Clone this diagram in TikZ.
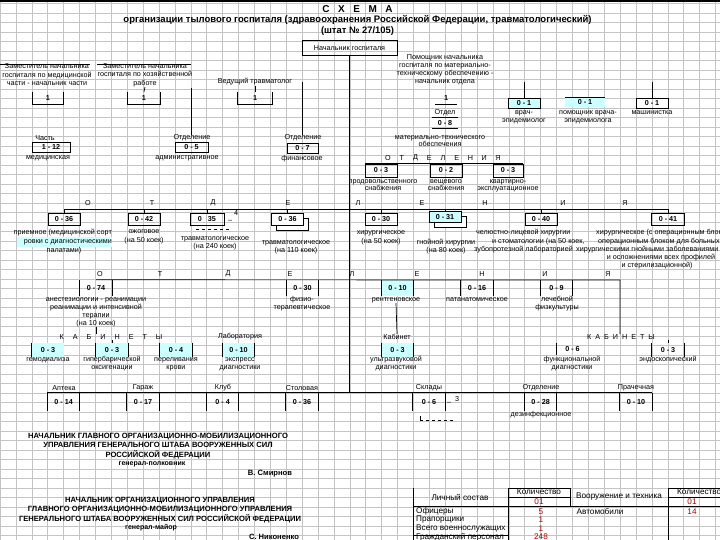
\documentclass[tikz,border=0pt]{standalone}
\usepackage{fontspec}
\setmainfont{Liberation Sans}
\definecolor{cy}{HTML}{CCFFFF}
\definecolor{dred}{HTML}{B00000}
\definecolor{gridc}{HTML}{C4C4C4}
\newcommand{\mysides}[1]{\draw[ln] (#1.north west) -- (#1.south west) (#1.north east) -- (#1.south east);}
\newcommand{\myubox}[1]{\draw[ln] (#1.north west) |- (#1.south east) -- (#1.north east);}
\tikzset{
 tx/.style={font=\fontsize{7.2}{8}\selectfont, inner sep=0pt, align=center},
 bnum/.style={inner sep=0pt, font=\fontsize{7.2}{7}\bfseries\selectfont, minimum width=32pt, minimum height=12pt},
 fbox/.style={bnum, draw, line width=0.7pt},
 ln/.style={line width=0.7pt},
 boldt/.style={font=\fontsize{7.6}{9.2}\bfseries\selectfont, inner sep=0pt, align=center},
 tabt/.style={font=\fontsize{8.2}{9}\selectfont, inner sep=0pt},
}
\begin{document}
\begin{tikzpicture}[x=1pt,y=-1pt]
\useasboundingbox (0,0) rectangle (720,540);
\fill[white] (0,0) rectangle (720,540);
% spreadsheet grid
\foreach \i in {0,...,45} \draw[gridc,line width=0.5pt] (\i*15.9,0) -- (\i*15.9,540);
\foreach \j in {0,...,56} \draw[gridc,line width=0.5pt] (0,3.5+\j*9.5) -- (720,3.5+\j*9.5);
\draw[line width=1.5pt] (0,0.8) -- (720,0.8);

% title
\node[font=\fontsize{10}{10}\bfseries\selectfont, inner sep=0pt] (ttl) at (357.5,9) {С\hspace{8.5pt}Х\hspace{8.5pt}Е\hspace{8.5pt}М\hspace{8.5pt}А};
\node[font=\fontsize{9.5}{10}\bfseries\selectfont, inner sep=0pt] (sub) at (357.5,20) {организации тылового госпиталя (здравоохранения Российской Федерации, травматологический)};
\node[font=\fontsize{9.4}{10}\bfseries\selectfont, inner sep=0pt] (sht) at (357.5,31) {(штат № 27/105)};

% head
\node[tx, draw, line width=0.7pt, minimum width=95pt, minimum height=15pt] (nach) at (349.5,48) {Начальник госпиталя};
\coordinate (trunkE) at (349.5,393);
\draw[ln] (nach.south) -- (trunkE);

% deputies
\node[tx, font=\fontsize{7.2}{8.5}\selectfont] (z1) at (47,75) {Заместитель начальника\\госпиталя по медицинской\\части - начальник части};
\coordinate (z1a) at (0,64); \coordinate (z1b) at (90,64);
\draw[ln] (z1a) -- (z1b);
\node[bnum, minimum width=30pt] (z1n) at (48,98) {1};
\myubox{z1n}

\node[tx, font=\fontsize{7.2}{8.5}\selectfont] (z2) at (145,75) {Заместитель начальника\\госпиталя по хозяйственной\\работе};
\coordinate (z2a) at (97,64); \coordinate (z2b) at (191,64);
\draw[ln] (z2a) -- (z2b);
\node[bnum] (z2n) at (144,98) {1};
\myubox{z2n}
\draw[ln] (z2.south) -- (z2n.north);

\node[tx] (ved) at (255,82) {Ведущий травматолог};
\node[bnum, minimum width=34pt] (vedn) at (255,98) {1};
\myubox{vedn}
\draw[ln] (ved.south) -- (vedn.north);

\node[tx, font=\fontsize{7.2}{8}\selectfont] (pom) at (445,70) {Помощник начальника\\госпиталя по материально-\\техническому обеспечению -\\начальник отдела};
\node[bnum, minimum width=22pt, minimum height=11pt] (pomn) at (446,98.5) {1};
\draw[ln] (pomn.south west) -- (pomn.south east);
\node[tx, minimum width=26pt, minimum height=8pt] (otdel) at (445,113) {Отдел};
\draw[ln] (otdel.south west) -- (otdel.south east);
\node[bnum, minimum width=26pt, minimum height=10pt] (otd8) at (445,123) {0 - 8};
\draw[ln] (otd8.south west) -- (otd8.south east);

% right top
\node[fbox, fill=cy, minimum height=10pt] (vr) at (524,103) {0 - 1};
\coordinate (vrt) at (524,82);
\draw[ln] (vrt) -- (vr.north);
\node[tx] (vrtx) at (524,117) {врач-\\эпидемиолог};
\node[bnum, fill=cy, minimum width=40pt, minimum height=9pt] (pv) at (585,102.5) {0 - 1};
\draw[ln] (pv.north west) -- (pv.north east);
\node[tx] (pvtx) at (588,117) {помощник врача-\\эпидемиолога};
\node[fbox, minimum height=10pt] (ms) at (652,103) {0 - 1};
\coordinate (mst) at (652,82);
\draw[ln] (mst) -- (ms.north);
\node[tx] (mstx) at (652,113) {машинистка};

% row 2
\node[tx] (ch) at (45,138) {Часть};
\node[fbox, minimum width=38pt, minimum height=10pt] (ch1) at (51,147) {1 - 12};
\node[tx] (chtx) at (48,158) {медицинская};
\node[tx] (otd1) at (192,138) {Отделение};
\node[fbox, minimum width=33pt, minimum height=10pt] (ad) at (191.5,147) {0 - 5};
\node[tx] (adtx) at (187,158) {административное};
\coordinate (v1) at (191,88);
\draw[ln] (v1) -- (v1 |- otd1.north);
\node[tx] (otd2) at (303,138) {Отделение};
\node[fbox, minimum width=31pt, minimum height=10pt] (fin) at (302.5,148) {0 - 7};
\node[tx] (fintx) at (302,159) {финансовое};
\coordinate (v2) at (302,82);
\draw[ln] (v2) -- (v2 |- otd2.north);

\node[tx, font=\fontsize{7.2}{7}\selectfont] (mto) at (440,141.5) {материально-технического\\обеспечения};
\foreach \l [count=\k from 0] in {О,Т,Д,Е,Л,Е,Н,И,Я} \node[tx] (ra\k) at (388+\k*13.75,158) {\l};
\node[fbox, minimum height=13pt] (mt1) at (381,170.5) {0 - 3};
\node[fbox, minimum height=13pt] (mt2) at (446,170.5) {0 - 2};
\node[fbox, minimum width=30pt, minimum height=13pt] (mt3) at (508,170.5) {0 - 3};
\draw[ln] (mt1.north west) -- (mt3.north east);
\node[tx, font=\fontsize{7.2}{7}\selectfont] (mt1tx) at (383,185.5) {продовольственного\\снабжения};
\node[tx, font=\fontsize{7.2}{7}\selectfont] (mt2tx) at (446,185.5) {вещевого\\снабжения};
\node[tx, font=\fontsize{7.2}{7}\selectfont] (mt3tx) at (508,185.5) {квартирно-\\эксплуатационное};

% row 3 departments
\foreach \l/\x in {О/88,Т/152,Д/213,Е/288,Л/358,Е/422,Н/485,И/563,Я/625} \node[tx] at (\x,203) {\l};
\node[fbox] (dA) at (64,219) {0 - 36};
\node[fbox] (dB) at (144,219) {0 - 42};
\node[fbox, minimum width=34pt] (dC) at (207,219) {0\hspace{6pt}35};
\node[fbox, fill=white] (dDs) at (292.5,224) {};
\node[fbox, fill=white] (dD) at (287.5,219) {0 - 36};
\node[fbox] (dE) at (381,219) {0 - 30};
\node[fbox, fill=white, minimum height=11pt] (dFs) at (450,222) {};
\node[fbox, fill=cy, minimum height=11pt] (dF) at (445,217) {0 - 31};
\node[fbox] (dG) at (541,219) {0 - 40};
\node[fbox, minimum width=33pt] (dH) at (668,219) {0 - 41};
\coordinate (b3L) at (64,209); \coordinate (b3R) at (668,209);
\draw[ln] (dA.north) -- (b3L) -- (b3R) -- (dH.north);
\foreach \n in {dB,dC,dD,dE,dF,dG} \draw[ln] (\n.north) -- (\n.north |- b3L);
\node[tx] (c4) at (236,213.5) {4};
\node[tx] (c4d) at (230,221) {–};
\coordinate (dsh1) at (196,229.5); \coordinate (dsh2) at (231,229.5);
\draw[line width=0.6pt, dashed] (dsh1) -- (dsh2);

\fill[cy] (17,236.5) rectangle (112,247);
\node[tx, anchor=east] (dAt1) at (112,233) {приемное (медицинской сорт};
\node[tx, anchor=east] (dAt2) at (112,242) {ровки с диагностическими};
\node[tx] (dAt3) at (64,250.5) {палатами)};
\node[tx, font=\fontsize{7.2}{9}\selectfont] (dBt) at (144,236.5) {ожоговое\\(на 50 коек)};
\node[tx] (dCt) at (215,243) {травматологическое\\(на 240 коек)};
\node[tx] (dDt) at (296,247) {травматологическое\\(на 110 коек)};
\node[tx, font=\fontsize{7.2}{9}\selectfont] (dEt) at (381,237.5) {хирургическое\\(на 50 коек)};
\node[tx] (dFt) at (446,247) {гнойной хирургии\\(на 80 коек)};
\node[tx, anchor=west] (dGt1) at (476,233) {челюстно-лицевой хирургии};
\node[tx, anchor=west] (dHt1) at (596,233) {хирургическое (с операционным блоком};
\node[tx, anchor=west] (dGt2) at (492,242) {и стоматологии (на 50 коек,};
\node[tx, anchor=west] (dHt2) at (598,242) {операционным блоком для больных};
\node[tx, anchor=west] (dGt3) at (474,250) {зубопротезной лабораторией};
\node[tx, anchor=west] (dHt3) at (576,250) {хирургическими гнойными заболеваниями};
\node[tx] (dHt4) at (661,258) {и осложнениями всех профилей};
\node[tx] (dHt5) at (657,266) {и стерилизационной)};

% row 4 departments
\foreach \l/\x in {О/100,Т/160,Д/228,Е/290,Л/352,Е/417,Н/482,И/545,Я/608} \node[tx] at (\x,274) {\l};
\node[bnum, minimum height=16pt] (r4a) at (96,288) {0 - 74};
\node[bnum, minimum width=31pt, minimum height=16pt] (r4b) at (302.5,288) {0 - 30};
\node[bnum, fill=cy, minimum width=31pt, minimum height=16pt] (r4c) at (397.5,288) {0 - 10};
\node[bnum, minimum height=16pt] (r4d) at (477,288) {0 - 16};
\node[bnum, minimum height=16pt] (r4e) at (556.5,288) {0 - 9};
\foreach \n in {r4a,r4b,r4c,r4d,r4e} {\mysides{\n}}
\coordinate (b4R) at (620,280);
\node[tx] (anest) at (96,312) {анестезиологии - реанимации\\реанимации и интенсивной\\терапии\\(на 10 коек)};
\node[tx] (fiz) at (302,304) {физио-\\терапевтическое};
\node[tx] (rent) at (396,300) {рентгеновское};
\node[tx] (pat) at (477,300) {патанатомическое};
\node[tx] (lfk) at (557,304) {лечебной\\физкультуры};

% cabinets
\node[tx] (kabL) at (111,337) {К\hspace{9pt}А\hspace{9pt}Б\hspace{9pt}И\hspace{9pt}Н\hspace{9pt}Е\hspace{9pt}Т\hspace{9pt}Ы};
\node[tx] (lab) at (240,337) {Лаборатория};
\node[tx] (kab) at (397,337) {Кабинет};
\node[tx] (kabR) at (621,337) {К\hspace{4pt}А\hspace{4pt}Б\hspace{4pt}И\hspace{4pt}Н\hspace{4pt}Е\hspace{4pt}Т\hspace{4pt}Ы};
\draw[ln] (r4a.north) -- (b4R) -- (kabR.north -| b4R);
\draw[ln] (anest.south) -- (anest.south |- kabL.north);
\draw[ln] (rent.south) -- (kab.north);
\node[bnum, fill=cy, minimum height=14pt] (k1) at (48,350) {0 - 3};
\draw[ln] (k1.north west) -- (k1.south west);
\node[bnum, fill=cy, minimum height=14pt] (k2) at (112,350) {0 - 3};
\node[bnum, fill=cy, minimum height=14pt] (k3) at (176,350) {0 - 4};
\node[bnum, fill=cy, minimum height=14pt] (k4) at (238.5,350) {0 - 10};
\node[bnum, fill=cy, minimum width=31pt, minimum height=14pt] (k5) at (397.5,350) {0 - 3};
\node[bnum, minimum height=12pt] (k6) at (572.5,349) {0 - 6};
\draw[ln] (k6.north west) -- (k6.south west);
\node[bnum, minimum height=14pt] (k7) at (668,350) {0 - 3};
\foreach \n in {k2,k3,k4,k5,k7} {\mysides{\n}}
\draw[ln] (k2.north) -- (k2.north |- kabL.south);
\draw[ln] (k7.north) -- (k7.north |- kabR.south);
\node[tx] (k1t) at (48,360) {гемодиализа};
\node[tx] (k2t) at (112,364) {гипербарической\\оксигенации};
\node[tx] (k3t) at (176,364) {переливания\\крови};
\node[tx] (k4t) at (240,364) {экспресс\\диагностики};
\node[tx] (k5t) at (396,364) {ультразвуковой\\диагностики};
\node[tx] (k6t) at (572,364) {функциональной\\диагностики};
\node[tx] (k7t) at (668,360) {эндоскопический};

% bottom services
\node[tx] (l1) at (64,388) {Аптека};
\node[tx] (l2) at (143,388) {Гараж};
\node[tx] (l3) at (223,388) {Клуб};
\node[tx] (l4) at (302,388) {Столовая};
\node[tx] (l5) at (429,388) {Склады};
\node[tx] (l6) at (541,388) {Отделение};
\node[tx] (l7) at (636,388) {Прачечная};
\node[bnum, minimum height=18pt] (s1) at (63.6,402) {0 - 14};
\node[bnum, minimum height=18pt] (s2) at (143,402) {0 - 17};
\node[bnum, minimum height=18pt] (s3) at (222.6,402) {0 - 4};
\node[bnum, minimum height=18pt] (s4) at (302,402) {0 - 36};
\node[bnum, minimum height=18pt] (s5) at (429,402) {0 - 6};
\node[bnum, minimum height=18pt] (s6) at (540.6,402) {0 - 28};
\node[bnum, minimum height=18pt] (s7) at (636,402) {0 - 10};
\foreach \n in {s1,s2,s3,s4,s5,s6,s7} {\mysides{\n}}
\draw[ln] (s1.north west) -- (s7.north east);
\node[tx] (s5d) at (449,403) {–};
\node[tx] (s5n) at (457,399.5) {3};
\coordinate (sd1) at (420,420); \coordinate (sd2) at (453,420);
\draw[ln] (sd1) -- ++(0,-4);
\draw[line width=0.6pt, dashed] (sd1) -- (sd2);
\node[tx] (s6t) at (541,415) {дезинфекционное};

% signatures
\node[boldt] (sig1) at (158,446) {НАЧАЛЬНИК ГЛАВНОГО ОРГАНИЗАЦИОННО-МОБИЛИЗАЦИОННОГО\\УПРАВЛЕНИЯ ГЕНЕРАЛЬНОГО ШТАБА ВООРУЖЕННЫХ СИЛ\\РОССИЙСКОЙ ФЕДЕРАЦИИ};
\node[boldt, font=\fontsize{7}{8}\bfseries\selectfont] (sig1r) at (152,464) {генерал-полковник};
\node[boldt] (sig1n) at (270,474) {В. Смирнов};
\node[boldt] (sig2) at (160,510) {НАЧАЛЬНИК ОРГАНИЗАЦИОННОГО УПРАВЛЕНИЯ\\ГЛАВНОГО ОРГАНИЗАЦИОННО-МОБИЛИЗАЦИОННОГО УПРАВЛЕНИЯ\\ГЕНЕРАЛЬНОГО ШТАБА ВООРУЖЕННЫХ СИЛ РОССИЙСКОЙ ФЕДЕРАЦИИ};
\node[boldt, font=\fontsize{7}{8}\bfseries\selectfont] (sig2r) at (151,528) {генерал-майор};
\node[boldt] (sig2n) at (274,536.5) {С. Никоненко};

% table
\draw[ln] (413,488) -- (413,540) (508,488) -- (508,540) (570,488) -- (570,507) (668,488) -- (668,540);
\draw[ln] (508,488) -- (570,488) (668,488) -- (720,488) (508,497.5) -- (570,497.5) (668,497.5) -- (720,497.5);
\draw[ln] (413,506.5) -- (720,506.5) (413,535) -- (508,535);
\node[tabt] (tls) at (460,497) {Личный состав};
\node[tabt] (tk1) at (539,492) {Количество};
\node[tabt, text=dred] (tk1n) at (539,502) {01};
\node[tabt] (tvt) at (619,497) {Вооружение и техника};
\node[tabt, anchor=west] (tk2) at (677,492) {Количество};
\node[tabt, text=dred] (tk2n) at (692,502) {01};
\begin{scope}
\clip (413,507) rectangle (507.5,540);
\node[tabt, anchor=west] (r1) at (416,511) {Офицеры};
\node[tabt, anchor=west] (r2) at (416,520) {Прапорщики};
\node[tabt, anchor=west] (r3) at (416,529) {Всего военнослужащих};
\node[tabt, anchor=west] (r4) at (416,537.5) {Гражданский персонал};
\end{scope}
\node[tabt, text=dred] (v1n) at (541,511.5) {5};
\node[tabt, text=dred] (v2n) at (541,520) {1};
\node[tabt, text=dred] (v3n) at (541,529) {1};
\node[tabt, text=dred] (v4n) at (541,537) {248};
\node[tabt] (avt) at (600,511.5) {Автомобили};
\node[tabt, text=dred] (avtn) at (692,511.5) {14};
\end{tikzpicture}
\end{document}
